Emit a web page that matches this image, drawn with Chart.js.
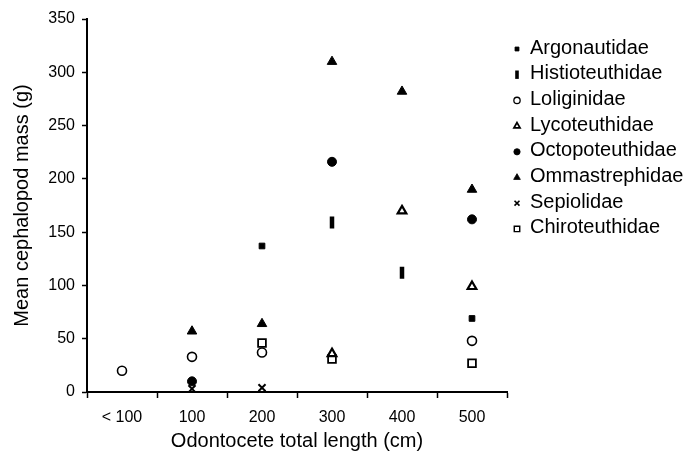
<!DOCTYPE html>
<html>
<head>
<meta charset="utf-8">
<script src="https://cdn.jsdelivr.net/npm/chart.js@4/dist/chart.umd.min.js"></script>
<style>
    html, body { margin: 0; padding: 0; background: #ffffff; }
    #wrap { width: 689px; height: 461px; position: relative; }
</style>
</head>
<body>
<div id="wrap"><canvas id="chart"></canvas></div>
<script>
// Categories on the x axis (odontocete length class)
const lengthClasses = ['< 100', '100', '200', '300', '400', '500'];

// Mean cephalopod mass (g) per family, null = no value
const argonautidae    = [null, null, 137, null, null, 69];
const histioteuthidae = [null, null, null, 159, 112, null];
const loliginidae     = [20, 33, 37, null, null, 48];
const lycoteuthidae   = [null, null, null, 36, 170, 99];
const octopoteuthidae = [null, 10, null, 216, null, 162];
const ommastrephidae  = [null, 57, 64, 310, 282, 190];
const sepiolidae      = [null, 3, 4, null, null, null];
const chiroteuthidae  = [null, null, 46, 31, null, 27];

const yTicks = [0, 50, 100, 150, 200, 250, 300, 350];

const FONT = "'Liberation Sans', Arial, sans-serif";

function series(label, data, style) {
    return Object.assign({
        label: label,
        data: data,
        showLine: false,
        borderColor: '#000',
        backgroundColor: '#000',
        pointBorderColor: '#000',
        pointBackgroundColor: '#000',
        pointBorderWidth: 1,
        pointRadius: 4
    }, style);
}

const datasets = [
    series('Argonautidae', argonautidae, { pointStyle: 'rect', pointRadius: 4 }),
    series('Histioteuthidae', histioteuthidae, { pointStyle: 'line', pointRotation: 90, pointRadius: 6, pointBorderWidth: 4.5 }),
    series('Loliginidae', loliginidae, { pointStyle: 'circle', pointRadius: 4.5, pointBackgroundColor: '#fff', pointBorderWidth: 1.6 }),
    series('Lycoteuthidae', lycoteuthidae, { pointStyle: 'triangle', pointRadius: 5, pointBackgroundColor: '#fff', pointBorderWidth: 2.2 }),
    series('Octopoteuthidae', octopoteuthidae, { pointStyle: 'circle', pointRadius: 4.5 }),
    series('Ommastrephidae', ommastrephidae, { pointStyle: 'triangle', pointRadius: 5.5 }),
    series('Sepiolidae', sepiolidae, { pointStyle: 'crossRot', pointRadius: 5, pointBorderWidth: 2 }),
    series('Chiroteuthidae', chiroteuthidae, { pointStyle: 'rect', pointRadius: 5.5, pointBackgroundColor: '#fff', pointBorderWidth: 1.8 })
];

// Simple legend drawn at the right, Excel style
const sideLegend = {
    id: 'sideLegend',
    afterDraw(chart) {
        const ctx = chart.ctx;
        const x0 = 517, y0 = 48, step = 25.7;
        ctx.save();
        ctx.font = '20px ' + FONT;
        ctx.textBaseline = 'middle';
        chart.data.datasets.forEach((ds, i) => {
            const y = y0 + i * step;
            ctx.fillStyle = ds.pointBackgroundColor;
            ctx.strokeStyle = ds.pointBorderColor;
            ctx.lineWidth = ds.pointBorderWidth * 0.8;
            Chart.helpers.drawPoint(ctx, {
                pointStyle: ds.pointStyle,
                rotation: ds.pointRotation || 0,
                radius: ds.pointRadius * 0.7,
                borderWidth: ds.pointBorderWidth * 0.8
            }, x0, y + 1);
            ctx.fillStyle = '#000';
            ctx.fillText(ds.label, x0 + 13, y);
        });
        ctx.restore();
    }
};

new Chart(document.getElementById('chart'), {
    type: 'line',
    data: {
        labels: lengthClasses,
        datasets: datasets
    },
    options: {
        responsive: true,
        maintainAspectRatio: false,
        animation: false,
        layout: {
            padding: { top: 19, right: 182, bottom: 0, left: 0 }
        },
        plugins: {
            legend: { display: false },
            tooltip: { enabled: false }
        },
        scales: {
            x: {
                type: 'category',
                offset: true,
                afterFit: (scale) => { scale.height = 69; },
                border: { display: true, color: '#000', width: 2 },
                grid: {
                    offset: true,
                    drawOnChartArea: false,
                    drawTicks: true,
                    tickLength: 6,
                    tickWidth: 1.5,
                    tickColor: '#000'
                },
                ticks: {
                    color: '#000',
                    padding: 10,
                    maxRotation: 0,
                    font: { family: FONT, size: 16 }
                },
                title: {
                    display: true,
                    text: 'Odontocete total length (cm)',
                    color: '#000',
                    padding: { top: 2, bottom: 8 },
                    font: { family: FONT, size: 20 }
                }
            },
            y: {
                min: 0,
                max: 350,
                afterFit: (scale) => { scale.width = 87; },
                afterBuildTicks: (scale) => {
                    scale.ticks = yTicks.map(v => ({ value: v }));
                },
                border: { display: true, color: '#000', width: 2 },
                grid: {
                    drawOnChartArea: false,
                    drawTicks: true,
                    tickLength: 5,
                    tickWidth: 1.5,
                    tickColor: '#000'
                },
                ticks: {
                    color: '#000',
                    padding: 7,
                    font: { family: FONT, size: 16 }
                },
                title: {
                    display: true,
                    text: 'Mean cephalopod mass (g)',
                    color: '#000',
                    padding: { top: 10, bottom: 0 },
                    font: { family: FONT, size: 20 }
                }
            }
        }
    },
    plugins: [sideLegend]
});
</script>
</body>
</html>
